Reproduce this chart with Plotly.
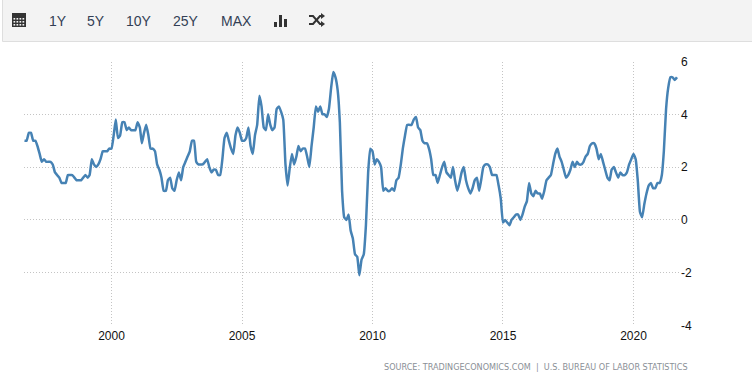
import pandas as pd
import plotly.graph_objects as go

W, H = 752, 383
cpi_1996 = [3.0, 3.0, 3.3, 3.3]
cpi_1997 = [3.0, 3.0, 2.8, 2.5, 2.2, 2.3, 2.2, 2.2, 2.2, 2.1, 1.8, 1.7]
cpi_1998 = [1.6, 1.4, 1.4, 1.4, 1.7, 1.7, 1.7, 1.6, 1.5, 1.5, 1.5, 1.6]
cpi_1999 = [1.7, 1.6, 1.7, 2.3, 2.1, 2.0, 2.1, 2.3, 2.6, 2.6, 2.6, 2.7]
cpi_2000 = [2.7, 3.2, 3.8, 3.1, 3.2, 3.7, 3.7, 3.4, 3.5, 3.4, 3.4, 3.4]
cpi_2001 = [3.7, 3.5, 2.9, 3.3, 3.6, 3.2, 2.7, 2.7, 2.6, 2.1, 1.9, 1.6]
cpi_2002 = [1.1, 1.1, 1.5, 1.6, 1.2, 1.1, 1.5, 1.8, 1.5, 2.0, 2.2, 2.4]
cpi_2003 = [2.6, 3.0, 3.0, 2.2, 2.1, 2.1, 2.1, 2.2, 2.3, 2.0, 1.8, 1.9]
cpi_2004 = [1.9, 1.7, 1.7, 2.3, 3.1, 3.3, 3.0, 2.7, 2.5, 3.2, 3.5, 3.3]
cpi_2005 = [3.0, 3.0, 3.1, 3.5, 2.8, 2.5, 3.2, 3.6, 4.7, 4.3, 3.5, 3.4]
cpi_2006 = [4.0, 3.6, 3.4, 3.5, 4.2, 4.3, 4.1, 3.8, 2.1, 1.3, 2.0, 2.5]
cpi_2007 = [2.1, 2.4, 2.8, 2.6, 2.7, 2.7, 2.4, 2.0, 2.8, 3.5, 4.3, 4.1]
cpi_2008 = [4.3, 4.0, 4.0, 3.9, 4.2, 5.0, 5.6, 5.4, 4.9, 3.7, 1.1, 0.1]
cpi_2009 = [0.0, 0.2, -0.4, -0.7, -1.3, -1.4, -2.1, -1.5, -1.3, -0.2, 1.8, 2.7]
cpi_2010 = [2.6, 2.1, 2.3, 2.2, 2.0, 1.1, 1.2, 1.1, 1.1, 1.2, 1.1, 1.5]
cpi_2011 = [1.6, 2.1, 2.7, 3.2, 3.6, 3.6, 3.6, 3.8, 3.9, 3.5, 3.4, 3.0]
cpi_2012 = [2.9, 2.9, 2.7, 2.3, 1.7, 1.7, 1.4, 1.7, 2.0, 2.2, 1.8, 1.7]
cpi_2013 = [1.6, 2.0, 1.5, 1.1, 1.4, 1.8, 2.0, 1.5, 1.2, 1.0, 1.2, 1.5]
cpi_2014 = [1.6, 1.1, 1.5, 2.0, 2.1, 2.1, 2.0, 1.7, 1.7, 1.7, 1.3, 0.8]
cpi_2015 = [-0.1, 0.0, -0.1, -0.2, 0.0, 0.1, 0.2, 0.2, 0.0, 0.2, 0.5, 0.7]
cpi_2016 = [1.4, 1.0, 0.9, 1.1, 1.0, 1.0, 0.8, 1.1, 1.5, 1.6, 1.7, 2.1]
cpi_2017 = [2.5, 2.7, 2.4, 2.2, 1.9, 1.6, 1.7, 1.9, 2.2, 2.0, 2.2, 2.1]
cpi_2018 = [2.1, 2.2, 2.4, 2.5, 2.8, 2.9, 2.9, 2.7, 2.3, 2.5, 2.2, 1.9]
cpi_2019 = [1.6, 1.5, 1.9, 2.0, 1.8, 1.6, 1.8, 1.7, 1.7, 1.8, 2.1, 2.3]
cpi_2020 = [2.5, 2.3, 1.5, 0.3, 0.1, 0.6, 1.0, 1.3, 1.4, 1.2, 1.2, 1.4]
cpi_2021 = [1.4, 1.7, 2.6, 4.2, 5.0, 5.4, 5.4, 5.3, 5.4]
values = (cpi_1996 + cpi_1997 + cpi_1998 + cpi_1999 + cpi_2000 + cpi_2001 + cpi_2002
          + cpi_2003 + cpi_2004 + cpi_2005 + cpi_2006 + cpi_2007 + cpi_2008 + cpi_2009
          + cpi_2010 + cpi_2011 + cpi_2012 + cpi_2013 + cpi_2014 + cpi_2015 + cpi_2016
          + cpi_2017 + cpi_2018 + cpi_2019 + cpi_2020 + cpi_2021)
dates = pd.date_range("1996-09-01", periods=len(values), freq="MS")

x_ticks = ["2000-01-01", "2005-01-01", "2010-01-01", "2015-01-01", "2020-01-01"]
x_tick_labels = ["2000", "2005", "2010", "2015", "2020"]
y_ticks = [-4, -2, 0, 2, 4, 6]
y_tick_labels = ["-4", "-2", "0", "2", "4", "6"]
buttons = [("1Y", 58), ("5Y", 96), ("10Y", 139), ("25Y", 186), ("MAX", 236)]
source = "SOURCE: TRADINGECONOMICS.COM  |  U.S. BUREAU OF LABOR STATISTICS"

def X(p): return p / W
def Y(p): return 1 - p / H
def rect(x0, y0, x1, y1, fill, line=None):
    return dict(type="rect", xref="paper", yref="paper", x0=X(x0), x1=X(x1), y0=Y(y0), y1=Y(y1),
                fillcolor=fill, line=dict(color=line or fill, width=1 if line else 0), layer="above")
def poly(pts, color, width=0, close=True):
    d = "M" + " L".join(f"{X(a):.5f},{Y(b):.5f}" for a, b in pts) + (" Z" if close else "")
    return dict(type="path", xref="paper", yref="paper", path=d,
                fillcolor=color if close else "rgba(0,0,0,0)",
                line=dict(color=color, width=width), layer="above")

DARK = "#333333"
shapes = [rect(2.5, -2, 760, 41.5, "#f3f3f3", "#dedede")]
shapes += [rect(12, 14, 26, 27, DARK), rect(12, 13, 26, 16, DARK)]
for r in range(3):
    for c in range(4):
        shapes.append(rect(13.5 + c * 3, 18 + r * 3, 15.2 + c * 3, 19.6 + r * 3, "#f3f3f3"))
shapes += [rect(274, 22, 277, 27, DARK), rect(279, 15, 282, 27, DARK), rect(284, 19, 287, 27, DARK)]
shapes += [
    poly([(309, 16), (313, 16), (320, 24), (322, 24)], DARK, 2, False),
    poly([(309, 24), (313, 24), (320, 16), (322, 16)], DARK, 2, False),
    poly([(321, 13), (325, 16), (321, 19)], DARK),
    poly([(321, 21), (325, 24), (321, 27)], DARK),
]

annotations = [dict(text=t, x=X(px), y=Y(21), xref="paper", yref="paper", showarrow=False,
                    xanchor="center", yanchor="middle",
                    font=dict(family="Liberation Sans", size=14, color="#333f55"))
               for t, px in buttons]
annotations.append(dict(text=source.replace(" ", "\u00a0"), x=X(690), y=Y(367), xref="paper", yref="paper",
                        showarrow=False, xanchor="right", yanchor="middle",
                        font=dict(family="DejaVu Sans", size=8.1, color="#8a8f96")))

fig = go.Figure(go.Scatter(x=dates, y=values, mode="lines",
                           line=dict(color="#4682b4", width=2.5, shape="spline", smoothing=0.4),
                           hoverinfo="x+y"))
grid = dict(showgrid=True, gridcolor="#c4c4c4", griddash="1px,2px", gridwidth=1, zeroline=False,
            showline=False, ticks="")
fig.update_layout(
    width=W, height=H, margin=dict(l=0, r=0, t=0, b=0, autoexpand=False), autosize=False,
    paper_bgcolor="white", plot_bgcolor="white", showlegend=False,
    font=dict(family="Liberation Sans", size=12, color="#111111"),
    xaxis=dict(domain=[X(24), X(680)], type="date", range=["1996-08-25", "2021-10-13"],
               tickvals=x_ticks, ticktext=x_tick_labels, automargin=False, ticklabelstandoff=1, **grid),
    yaxis=dict(domain=[Y(325.5), Y(61.5)], range=[-4, 6], side="right", tickvals=y_ticks,
               ticktext=y_tick_labels, automargin=False, **grid),
    shapes=shapes, annotations=annotations,
)
fig.write_html("out.html", config={"displayModeBar": False},
               post_script="document.body.style.margin='0';document.documentElement.style.overflow='hidden';")
